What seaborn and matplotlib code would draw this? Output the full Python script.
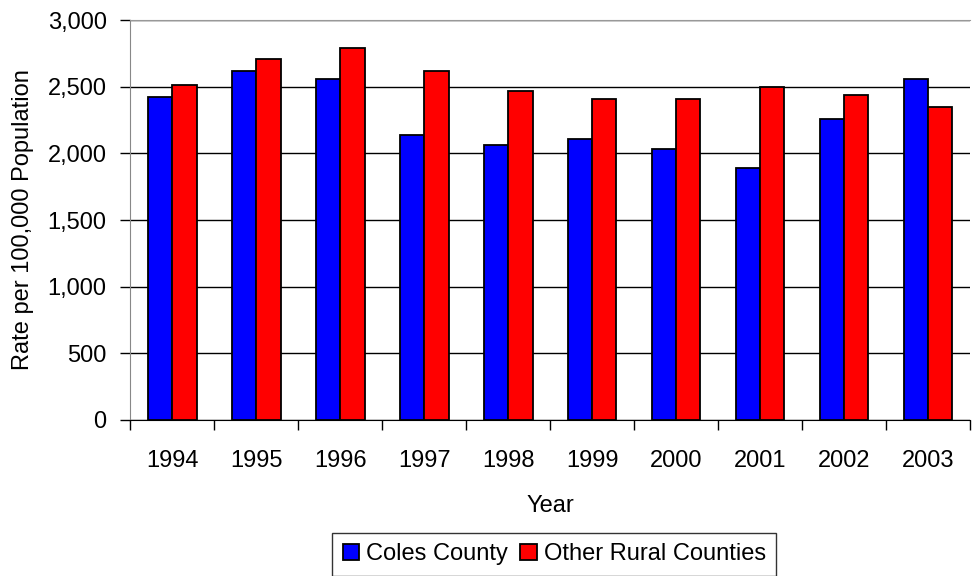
import numpy as np
import pandas as pd
import matplotlib
matplotlib.use('Agg')
import matplotlib.pyplot as plt
import seaborn as sns
from matplotlib.ticker import FuncFormatter

# data
years = ['1994', '1995', '1996', '1997', '1998', '1999', '2000', '2001', '2002', '2003']
coles = [2424, 2621, 2561, 2136, 2061, 2106, 2030, 1894, 2258, 2561]
other_rural = [2515, 2712, 2788, 2621, 2470, 2409, 2409, 2500, 2439, 2348]
series_names = ['Coles County', 'Other Rural Counties']

data = pd.DataFrame({
    'Year': years * 2,
    'Rate': coles + other_rural,
    'Series': [series_names[0]] * len(years) + [series_names[1]] * len(years),
})

sns.set_style('white')
plt.rcParams['font.family'] = ['Liberation Sans', 'DejaVu Sans']
plt.rcParams['text.color'] = 'black'
plt.rcParams['axes.labelcolor'] = 'black'
plt.rcParams['xtick.color'] = 'black'
plt.rcParams['ytick.color'] = 'black'

fig = plt.figure(figsize=(9.72, 5.76), dpi=100)
ax = fig.add_axes([0.134, 0.271, 0.864, 0.694])

sns.barplot(data=data, x='Year', y='Rate', hue='Series', order=years,
            hue_order=series_names, palette=['#0000FF', '#FF0000'],
            width=0.58, edgecolor='black', linewidth=1.3, saturation=1,
            ax=ax, zorder=3)

ax.set_xlim(-0.5, len(years) - 0.5)
ax.set_ylim(0, 3000)
ax.set_yticks(np.arange(0, 3001, 500))
ax.yaxis.set_major_formatter(FuncFormatter(lambda v, p: f'{int(v):,}'))
ax.grid(axis='y', color='black', linewidth=1, zorder=0)
ax.set_axisbelow(True)

# Excel style ticks between categories
ax.tick_params(axis='x', which='major', bottom=True, length=0, pad=22, labelsize=17)
ax.set_xticks(np.arange(-0.5, len(years), 1), minor=True)
ax.tick_params(axis='x', which='minor', bottom=True, length=7, width=1, direction='out')
ax.tick_params(axis='y', left=True, length=7, width=1, direction='out', labelsize=17, pad=10)

ax.spines['right'].set_visible(False)
ax.spines['top'].set_color('#999999')
ax.spines['left'].set_color('#888888')
ax.spines['bottom'].set_color('black')

ax.set_xlabel('Year', fontsize=17, labelpad=16)
ax.set_ylabel('Rate per 100,000 Population', fontsize=17, labelpad=10)

leg = ax.legend(loc='upper center', bbox_to_anchor=(0.505, -0.2825), ncol=2,
                frameon=True, fancybox=False, fontsize=17, handlelength=0.7,
                handleheight=0.7, handletextpad=0.3, columnspacing=0.5,
                borderpad=0.45, borderaxespad=0)
leg.get_frame().set_edgecolor('black')
leg.get_frame().set_linewidth(1)

plt.savefig('out.png', dpi=100)
